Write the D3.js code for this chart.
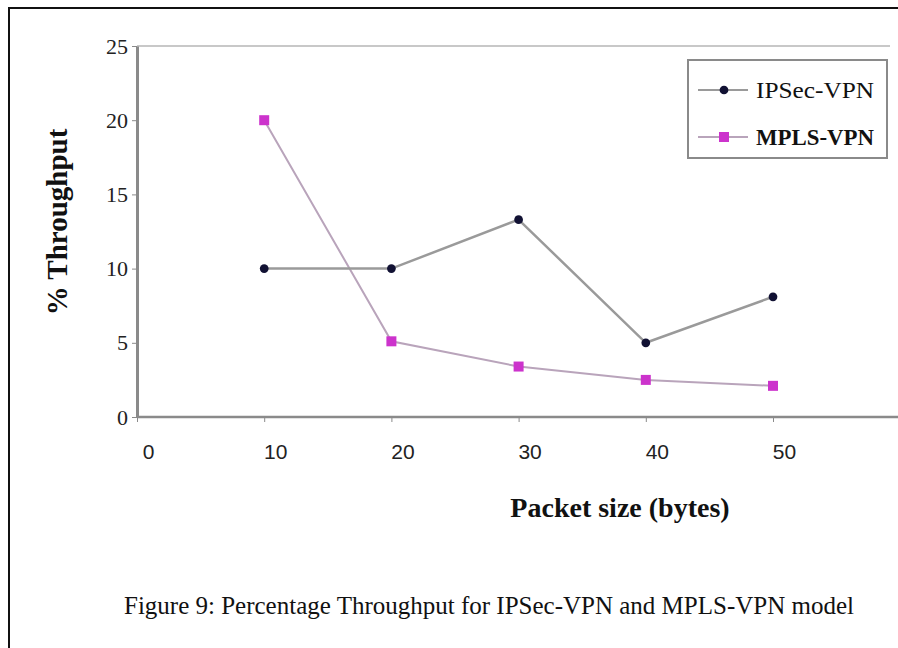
<!DOCTYPE html>
<html>
<head>
<meta charset="utf-8">
<script src="https://cdn.jsdelivr.net/npm/d3@7"></script>
<style>
  body { margin: 0; background: #fff; }
  svg { display: block; }
</style>
</head>
<body>
<div id="chart"></div>
<script>
var packetSizes = [10, 20, 30, 40, 50];
var ipsecValues = [10, 10, 13.3, 5, 8.1];
var mplsValues = [20, 5.1, 3.4, 2.5, 2.1];
var xTickLabels = [0, 10, 20, 30, 40, 50];
var yTickLabels = [0, 5, 10, 15, 20, 25];
var seriesNames = ["IPSec-VPN", "MPLS-VPN"];

var W = 898, H = 648;
var margin = {top: 46, left: 137, bottom: 231};   // plot runs off the right edge

var svg = d3.select("#chart").append("svg")
    .attr("width", W)
    .attr("height", H);

// outer figure frame (right and bottom fall outside the crop)
svg.append("rect")
    .attr("x", 9).attr("y", 8)
    .attr("width", W + 20).attr("height", H + 20)
    .attr("fill", "#fff")
    .attr("stroke", "#111")
    .attr("stroke-width", 2);

var x = d3.scaleLinear()
    .domain([0, 60])
    .range([margin.left, margin.left + 6 * 127.2]);
var y = d3.scaleLinear()
    .domain([0, 25])
    .range([H - margin.bottom, margin.top]);

// top edge of the plot area
svg.append("line")
    .attr("x1", x(0)).attr("x2", 890)
    .attr("y1", y(25)).attr("y2", y(25))
    .attr("stroke", "#c8c8c8")
    .attr("stroke-width", 2);

var xAxis = d3.axisBottom(x)
    .tickValues(xTickLabels)
    .tickSize(5)
    .tickSizeOuter(0);
var yAxis = d3.axisLeft(y)
    .tickValues(yTickLabels)
    .tickSize(5)
    .tickSizeOuter(0);

var gx = svg.append("g")
    .attr("transform", "translate(0," + y(0) + ")")
    .call(xAxis);
gx.select(".domain").attr("d", "M" + x(0) + ",0H" + W);
gx.selectAll(".domain, line").attr("stroke", "#8a8a8a");
gx.select(".domain").attr("stroke-width", 2.5);
gx.selectAll("text")
    .attr("dx", 11)
    .attr("dy", "1.6em")
    .style("font-family", "'Liberation Sans', Arial, sans-serif")
    .style("font-size", "21px")
    .style("fill", "#222");

var gy = svg.append("g")
    .attr("transform", "translate(" + x(0) + ",0)")
    .call(yAxis);
gy.selectAll(".domain, line").attr("stroke", "#8a8a8a");
gy.select(".domain").attr("stroke-width", 3);
gy.selectAll("text")
    .attr("dx", -1)
    .style("font-family", "'Liberation Serif', 'Times New Roman', serif")
    .style("font-size", "22px")
    .style("fill", "#222");

// axis titles
svg.append("text")
    .attr("transform", "translate(57,222) rotate(-90)")
    .attr("dy", "0.35em")
    .attr("text-anchor", "middle")
    .style("font-family", "'Liberation Serif', 'Times New Roman', serif")
    .style("font-weight", "bold")
    .style("font-size", "29px")
    .style("fill", "#111")
    .text("% Throughput");

svg.append("text")
    .attr("x", 620)
    .attr("y", 517)
    .attr("text-anchor", "middle")
    .style("font-family", "'Liberation Serif', 'Times New Roman', serif")
    .style("font-weight", "bold")
    .style("font-size", "28px")
    .style("fill", "#111")
    .text("Packet size (bytes)");

var line = d3.line()
    .x((d, i) => x(packetSizes[i]))
    .y(d => y(d));

// MPLS-VPN
svg.append("path")
    .datum(mplsValues)
    .attr("d", line)
    .attr("fill", "none")
    .attr("stroke", "#b9a4bb")
    .attr("stroke-width", 2);
svg.selectAll(".mpls")
    .data(mplsValues)
    .enter().append("rect")
    .attr("class", "mpls")
    .attr("x", (d, i) => x(packetSizes[i]) - 5)
    .attr("y", d => y(d) - 5)
    .attr("width", 10)
    .attr("height", 10)
    .attr("fill", "#cc33cc");

// IPSec-VPN
svg.append("path")
    .datum(ipsecValues)
    .attr("d", line)
    .attr("fill", "none")
    .attr("stroke", "#9a9a9a")
    .attr("stroke-width", 2.5);
svg.selectAll(".ipsec")
    .data(ipsecValues)
    .enter().append("path")
    .attr("class", "ipsec")
    .attr("transform", (d, i) => "translate(" + x(packetSizes[i]) + "," + y(d) + ")")
    .attr("d", d3.symbol().type(d3.symbolCircle).size(60))
    .attr("fill", "#111133");

// legend
var legend = svg.append("g").attr("transform", "translate(688,60)");
legend.append("rect")
    .attr("width", 199).attr("height", 98)
    .attr("fill", "#fff")
    .attr("stroke", "#8a8a8a")
    .attr("stroke-width", 2);

seriesNames.forEach(function (name, i) {
    var row = legend.append("g").attr("transform", "translate(0," + (30 + i * 47) + ")");
    row.append("line")
        .attr("x1", 10).attr("x2", 60)
        .attr("stroke", i === 0 ? "#9a9a9a" : "#b9a4bb")
        .attr("stroke-width", 2);
    if (i === 0) {
        row.append("path")
            .attr("transform", "translate(36,0)")
            .attr("d", d3.symbol().type(d3.symbolCircle).size(60))
            .attr("fill", "#111133");
    } else {
        row.append("rect")
            .attr("x", 31).attr("y", -5)
            .attr("width", 10).attr("height", 10)
            .attr("fill", "#cc33cc");
    }
    row.append("text")
        .attr("x", 68)
        .attr("dy", "0.35em")
        .attr("textLength", 118)
        .attr("lengthAdjust", "spacingAndGlyphs")
        .style("font-family", "'Liberation Serif', 'Times New Roman', serif")
        .style("font-weight", i === 1 ? "bold" : "normal")
        .style("font-size", "23px")
        .style("fill", "#111")
        .text(name);
});

// caption
svg.append("text")
    .attr("x", 489)
    .attr("y", 614)
    .attr("text-anchor", "middle")
    .style("font-family", "'Liberation Serif', 'Times New Roman', serif")
    .style("font-size", "25px")
    .style("fill", "#111")
    .text("Figure 9: Percentage Throughput for IPSec-VPN and MPLS-VPN model");
</script>
</body>
</html>
